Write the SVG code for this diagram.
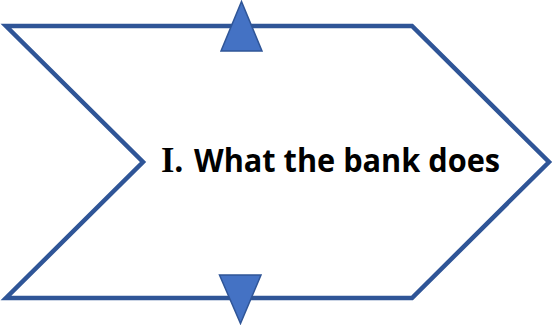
<svg xmlns="http://www.w3.org/2000/svg" width="553" height="325" viewBox="0 0 553 325">
  <style>
    .chev { fill: #ffffff; stroke: #2F5597; stroke-width: 4.5; stroke-linejoin: miter; }
    .tri { fill: #4472C4; stroke: #2F5597; stroke-width: 1.5; stroke-linejoin: miter; }
    .roman { font-family: "Liberation Serif", "Times New Roman", serif; font-weight: bold; font-size: 35px; fill: #000; }
    .label { font-family: "Open Sans", "Noto Sans", sans-serif; font-weight: bold; font-size: 33px; fill: #000; }
  </style>
  <rect width="553" height="325" fill="#ffffff"/>
  <g id="chevron">
    <polygon class="chev" points="6,26 412,26 549,162 412,298 6,298 143,162"/>
    <text class="roman" x="161" y="172" textLength="22" lengthAdjust="spacingAndGlyphs">I.</text>
    <text class="label" x="194" y="172" textLength="306" lengthAdjust="spacingAndGlyphs">What the bank does</text>
  </g>
  <g id="connectors">
    <polygon id="arrow-up" class="tri" points="241.5,1.5 262,51 221,51"/>
    <polygon id="arrow-down" class="tri" points="219.5,275 261,275 240.5,323.5"/>
  </g>
</svg>
